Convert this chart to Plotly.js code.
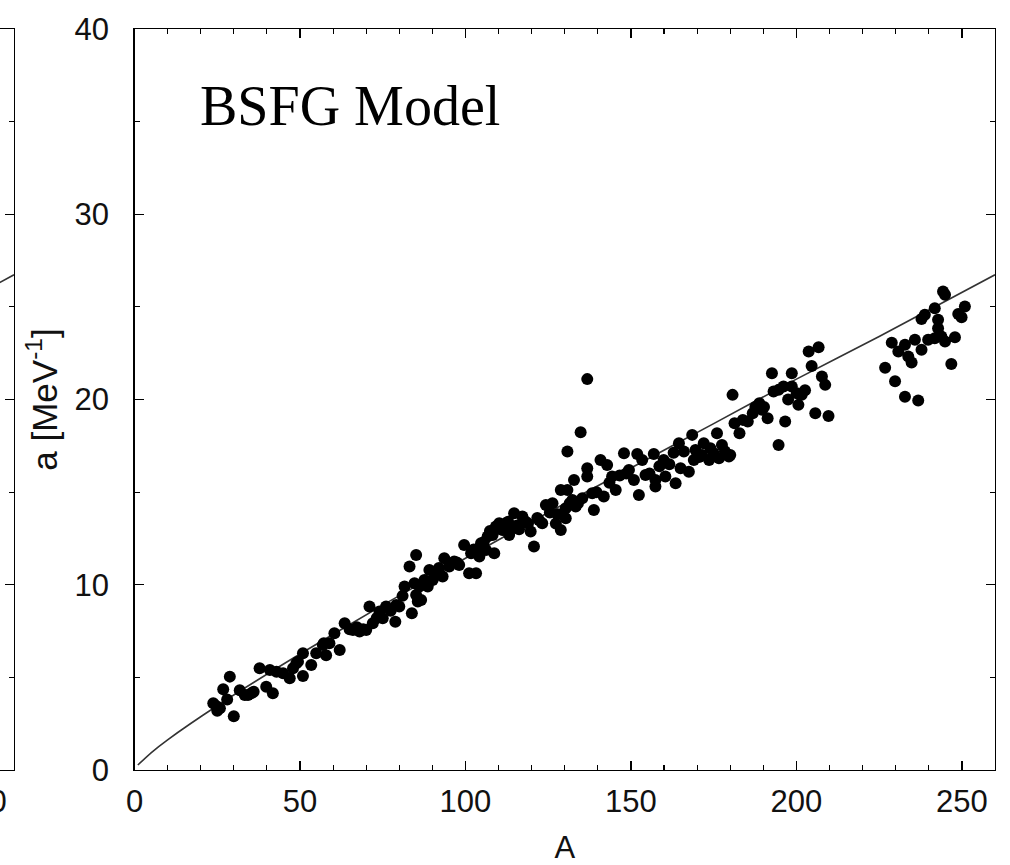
<!DOCTYPE html>
<html>
<head>
<meta charset="utf-8">
<script src="https://cdn.plot.ly/plotly-3.0.1.min.js"></script>
<style>
  html, body { margin: 0; padding: 0; background: #fff; overflow: hidden; width: 1010px; height: 865px; }
  #plot { position: absolute; left: -100px; top: 0; width: 1110px; height: 865px; }
</style>
</head>
<body>
<div id="plot"></div>
<script>
// Scatter points: mass number A and level density parameter a [MeV^-1]
const massA = [
  23.8,25.0,25.8,24.7,26.8,28.8,28.0,30.0,31.8,33.3,34.3,36.0,35.3,37.8,39.8,41.8,40.9,42.9,44.9,46.9,
  47.9,48.9,49.4,50.9,50.9,53.4,54.9,56.9,57.9,58.9,57.2,60.4,62.0,63.5,66.0,68.0,70.0,72.0,75.0,71.0,
  74.0,76.0,79.1,78.8,83.8,85.6,80.0,81.6,83.1,85.1,84.6,85.1,86.1,86.6,87.6,88.6,89.1,90.1,91.1,93.1,
  93.6,95.1,96.6,98.1,99.6,101.7,103.2,101.1,103.2,104.2,104.7,106.2,106.7,108.2,108.7,109.2,110.2,111.2,112.2,113.2,
  114.2,114.7,117.2,119.7,120.7,123.2,124.3,126.3,128.8,130.3,130.3,133.3,132.3,135.3,138.3,128.8,130.8,132.8,130.8,134.8,
  136.8,136.8,136.8,138.8,140.8,141.8,142.8,144.3,145.4,147.9,149.4,150.9,151.9,152.4,153.4,154.4,156.9,157.4,157.4,159.9,
  160.4,162.9,163.5,165.0,166.0,167.5,168.5,116.2,118.2,121.7,125.5,127.3,
  164.5,169.5,172.0,174.0,176.0,177.5,180.0,169.0,173.6,176.6,179.6,180.7,181.3,182.8,185.3,186.8,188.8,191.3,189.6,192.6,
  193.1,194.6,196.6,194.6,196.1,198.6,198.6,200.1,200.6,201.6,203.7,206.7,204.6,207.7,208.7,205.7,209.7,
  226.8,229.8,232.8,236.8,228.8,230.8,232.8,233.8,234.8,235.8,237.8,237.8,238.8,239.8,241.8,241.8,242.8,242.8,243.8,244.9,
  244.3,244.9,246.8,247.9,248.9,249.9,250.9,
  65.0,67.2,69.1,73.2,77.4,81.0,92.0,97.4,102.5,105.5,107.4,110.8,112.9,115.6,118.9,122.2,127.8,131.5,134.0,139.6,
  143.5,146.6,148.6,155.6,158.6,161.6,170.6,171.5,175.0,178.4,183.8,187.6,190.2,197.5,202.6
];
const levelA = [
  3.6,3.2,3.33,3.45,4.36,5.04,3.8,2.9,4.3,4.05,4.05,4.23,4.14,5.49,4.5,4.14,5.4,5.3,5.22,4.95,
  5.49,5.76,5.85,5.08,6.3,5.67,6.3,6.75,6.2,6.84,6.84,7.38,6.48,7.92,7.56,7.47,7.56,7.92,8.19,8.82,
  8.55,8.82,8.91,8.0,8.46,9.09,8.82,9.9,10.98,11.61,10.08,9.45,9.9,9.18,10.26,9.9,10.8,10.26,10.62,10.44,
  11.43,10.98,11.25,11.07,12.15,11.7,11.88,10.62,10.62,11.52,12.24,11.88,12.6,12.69,11.7,13.14,13.32,12.96,13.32,12.69,
  13.05,13.86,13.68,12.87,12.06,13.32,14.31,14.4,12.96,13.59,14.13,14.22,14.58,14.67,14.94,15.12,15.12,15.66,17.19,18.23,
  21.1,16.29,15.84,14.04,16.74,14.76,16.47,15.84,15.12,17.1,16.2,15.66,17.06,14.85,16.74,15.93,17.06,15.66,15.3,16.74,
  15.84,17.13,15.48,16.29,17.19,16.1,18.09,13.0,13.4,13.6,13.9,13.3,
  17.64,17.28,17.64,17.37,18.18,17.55,17.0,16.74,16.74,16.83,16.92,20.25,18.72,18.18,18.81,19.26,19.8,18.99,19.44,21.42,
  20.43,20.52,18.81,17.55,20.7,21.42,20.7,20.34,19.71,20.25,22.59,22.82,21.81,21.24,20.79,19.26,19.11,
  21.72,20.99,20.15,19.94,23.07,22.59,22.95,22.32,22.0,23.22,22.68,24.34,24.57,23.22,23.31,24.93,24.3,23.85,23.4,25.65,
  25.83,23.13,21.92,23.36,24.62,24.44,25.02,
  7.6,7.7,7.6,8.2,8.6,9.4,10.9,11.2,11.9,12.3,12.9,13.0,13.4,13.2,13.3,13.5,13.8,14.4,14.4,15.0,
  15.5,15.9,16.0,16.0,16.4,16.5,16.9,17.0,17.1,17.2,18.9,19.6,19.6,20.0,20.5
];
// BSFG model curve
const curveA = [1, 5, 10, 25, 50, 75, 100, 125, 150, 175, 200, 225, 260];
const curveVal = [0.27, 0.93, 1.63, 3.47, 6.26, 8.9, 11.43, 13.9, 16.3, 18.7, 21.1, 23.4, 26.73];

const panelLabel = 'BSFG Model';
const xTitle = 'A';
const yTitle = 'a [MeV<sup>-1</sup>]';

const tickFont = {family: 'Liberation Sans, Arial, sans-serif', size: 31, color: '#111'};

const traces = [
  {x: curveA, y: curveVal, xaxis: 'x', yaxis: 'y', type: 'scatter', mode: 'lines',
   line: {color: '#333', width: 1.6, shape: 'spline', smoothing: 0.6}, hoverinfo: 'skip'},
  {x: massA, y: levelA, xaxis: 'x', yaxis: 'y', type: 'scatter', mode: 'markers',
   marker: {color: '#000', size: 12, line: {width: 0}}},
  {x: curveA, y: curveVal, xaxis: 'x2', yaxis: 'y2', type: 'scatter', mode: 'lines',
   line: {color: '#333', width: 1.6, shape: 'spline', smoothing: 0.6}, hoverinfo: 'skip'}
];

function axisBase() {
  return {
    showline: true, linecolor: '#000', linewidth: 1.3, mirror: 'allticks',
    ticks: 'inside', ticklen: 9, tickwidth: 1.2, tickcolor: '#000',
    showgrid: false, zeroline: false, tickfont: tickFont, fixedrange: true
  };
}

const xaxis = Object.assign(axisBase(), {
  range: [0, 260], domain: [0.21416, 1], anchor: 'y', tick0: 0, dtick: 50,
  minor: {dtick: 10, ticks: 'inside', ticklen: 5, tickwidth: 1.1, tickcolor: '#000', showgrid: false},
  ticklabelstandoff: 3,
  title: {text: xTitle, font: {family: 'Liberation Sans, Arial, sans-serif', size: 31, color: '#111'}, standoff: 20}
});
const yaxis = Object.assign(axisBase(), {
  range: [0, 40], anchor: 'x', tick0: 0, dtick: 10,
  minor: {dtick: 5, ticks: 'inside', ticklen: 5, tickwidth: 1.1, tickcolor: '#000', showgrid: false},
  ticklabelstandoff: 18,
  title: {text: yTitle, font: {family: 'Liberation Sans, Arial, sans-serif', size: 35, color: '#111'}, standoff: 6}
});
const xaxis2 = Object.assign(axisBase(), {
  range: [225.56, 260], domain: [0, 0.10411], anchor: 'y2', tick0: 0, dtick: 50,
  minor: {dtick: 10, ticks: 'inside', ticklen: 5, tickwidth: 1.1, tickcolor: '#000', showgrid: false},
  ticklabelstandoff: 3
});
const yaxis2 = Object.assign(axisBase(), {
  range: [0, 40], anchor: 'x2', tick0: 0, dtick: 10, showticklabels: false,
  minor: {dtick: 5, ticks: 'inside', ticklen: 5, tickwidth: 1.1, tickcolor: '#000', showgrid: false}
});

const layout = {
  width: 1110, height: 865,
  margin: {l: 0, r: 15, t: 29, b: 95},
  paper_bgcolor: '#fff', plot_bgcolor: '#fff',
  showlegend: false,
  xaxis: xaxis, yaxis: yaxis, xaxis2: xaxis2, yaxis2: yaxis2,
  annotations: [{
    text: panelLabel, xref: 'x', yref: 'y', x: 19.1, y: 35.85,
    xanchor: 'left', yanchor: 'middle', showarrow: false,
    font: {family: 'Liberation Serif, Times New Roman, serif', size: 56, color: '#000'}
  }]
};

Plotly.newPlot('plot', traces, layout, {staticPlot: true, displayModeBar: false});
</script>
</body>
</html>
